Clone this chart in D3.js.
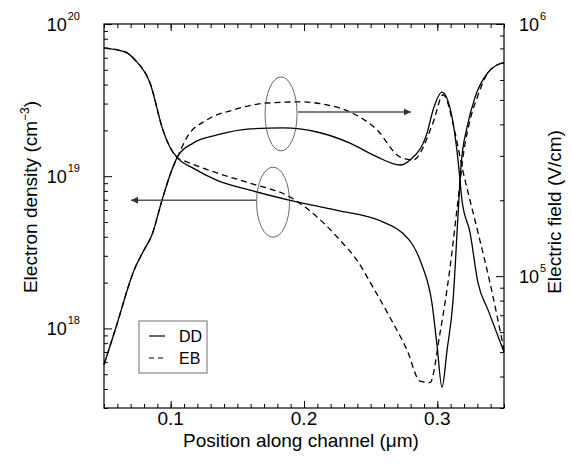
<!DOCTYPE html>
<html>
<head>
<meta charset="utf-8">
<script src="https://cdn.jsdelivr.net/npm/d3@7"></script>
<style>
body { margin: 0; background: white; }
svg text { font-family: "Liberation Sans", Arial, sans-serif; fill: black; }
</style>
</head>
<body>
<div class="board"></div>
<script>
var margin = { top: 24, right: 68, bottom: 60, left: 104 },
    width = 572 - margin.left - margin.right,
    height = 468 - margin.top - margin.bottom;

// electron density (cm^-3) along channel
const posDensityDD = [0.05, 0.0658, 0.0733, 0.0845, 0.0943, 0.0995, 0.1055, 0.1168, 0.1348, 0.1595, 0.1895, 0.2248, 0.257, 0.2743, 0.281, 0.2885, 0.296, 0.2998, 0.3035, 0.3073, 0.3118, 0.3155, 0.3178, 0.3223, 0.3283, 0.338, 0.35]
const densityDD = [6.95e19, 6.55e19, 5.8e19, 4.1e19, 2.0e19, 1.55e19, 1.31e19, 1.13e19, 9.4e18, 8.1e18, 6.95e18, 5.97e18, 5.1e18, 4.2e18, 3.6e18, 2.6e18, 1.46e18, 7.7e17, 4.1e17, 7.2e17, 1.53e18, 5.5e18, 1.18e19, 2.1e19, 3.3e19, 4.8e19, 5.6e19]

const posDensityEB = [0.05, 0.0658, 0.0733, 0.0845, 0.0943, 0.0995, 0.1055, 0.1093, 0.1348, 0.1595, 0.1895, 0.2098, 0.227, 0.2398, 0.2518, 0.2645, 0.2773, 0.287, 0.2945, 0.302, 0.3095, 0.3155, 0.32, 0.3245, 0.3305, 0.338, 0.35]
const densityEB = [6.95e19, 6.55e19, 5.8e19, 4.1e19, 2.0e19, 1.55e19, 1.31e19, 1.27e19, 1.05e19, 9.0e18, 7.3e18, 5.4e18, 3.8e18, 2.8e18, 1.86e18, 1.18e18, 7.2e17, 4.5e17, 4.4e17, 9.3e17, 2.5e18, 6.95e18, 1.48e19, 2.33e19, 3.4e19, 4.8e19, 5.6e19]

// electric field (V/cm) along channel
const posFieldDD = [0.05, 0.0583, 0.0733, 0.0793, 0.086, 0.0935, 0.0995, 0.1055, 0.1168, 0.1348, 0.1595, 0.1843, 0.2098, 0.2345, 0.2548, 0.272, 0.2795, 0.2923, 0.2968, 0.3035, 0.311, 0.3155, 0.3185, 0.3245, 0.3305, 0.338, 0.35]
const fieldDD = [4.45e4, 6.1e4, 1.08e5, 1.25e5, 1.46e5, 2.0e5, 2.52e5, 3.0e5, 3.37e5, 3.63e5, 3.84e5, 3.87e5, 3.73e5, 3.37e5, 2.97e5, 2.76e5, 2.89e5, 3.7e5, 4.56e5, 5.37e5, 4.28e5, 2.89e5, 2.0e5, 1.49e5, 9.4e4, 7.35e4, 5.0e4]

const posFieldEB = [0.05, 0.0583, 0.0733, 0.0793, 0.086, 0.0935, 0.0995, 0.1055, 0.1123, 0.1273, 0.1468, 0.1723, 0.197, 0.2173, 0.2345, 0.2548, 0.272, 0.2818, 0.2968, 0.3043, 0.3133, 0.3185, 0.3245, 0.3305, 0.3395, 0.35]
const fieldEB = [4.45e4, 6.1e4, 1.08e5, 1.25e5, 1.46e5, 2.0e5, 2.52e5, 3.0e5, 3.56e5, 4.17e5, 4.56e5, 4.86e5, 4.91e5, 4.78e5, 4.48e5, 3.8e5, 2.97e5, 2.89e5, 4.06e5, 5.24e5, 3.7e5, 2.71e5, 2.0e5, 1.49e5, 9.4e4, 5.1e4]

const xTicks = [0.1, 0.2, 0.3]
const densityTicks = [1e18, 1e19, 1e20]
const fieldTicks = [1e5, 1e6]
const legendLabels = ["DD", "EB"]

var svg = d3.select(".board")
    .append("svg")
    .attr("width", 572)
    .attr("height", 468)

var g = svg.append("g")
    .attr("transform", `translate(${margin.left}, ${margin.top})`)

let x = d3.scaleLinear().domain([0.05, 0.35]).range([0, width])
let yDensity = d3.scaleLog().domain([3e17, 1e20]).range([height, 0])
let yField = d3.scaleLog().domain([3e4, 1e6]).range([height, 0])

const isPow = d => Math.abs(Math.log10(d) - Math.round(Math.log10(d))) < 1e-9

function drawAxis(axis, transform) {
    let a = g.append("g").attr("transform", transform).call(axis)
    a.select(".domain").remove()
    a.selectAll("text").remove()
    a.selectAll("line").attr("stroke", "black").attr("stroke-width", 1)
}

// x ticks, bottom and top, pointing inward
let xMinor = d3.range(5, 36).map(d => d / 100)
drawAxis(d3.axisBottom(x).tickValues(xMinor).tickSize(-4), `translate(0, ${height})`)
drawAxis(d3.axisBottom(x).tickValues(xTicks).tickSize(-7), `translate(0, ${height})`)
drawAxis(d3.axisTop(x).tickValues(xMinor).tickSize(-4), "translate(0, 0)")
drawAxis(d3.axisTop(x).tickValues(xTicks).tickSize(-7), "translate(0, 0)")

// left (density) and right (field) ticks
drawAxis(d3.axisLeft(yDensity).tickValues(yDensity.ticks().filter(d => !isPow(d))).tickSize(-4), "translate(0, 0)")
drawAxis(d3.axisLeft(yDensity).tickValues(densityTicks).tickSize(-8), "translate(0, 0)")
drawAxis(d3.axisRight(yField).tickValues(yField.ticks().filter(d => !isPow(d))).tickSize(-4), `translate(${width}, 0)`)
drawAxis(d3.axisRight(yField).tickValues(fieldTicks).tickSize(-8), `translate(${width}, 0)`)

g.append("rect")
    .attr("width", width)
    .attr("height", height)
    .attr("fill", "none")
    .attr("stroke", "black")
    .attr("stroke-width", 1.2)

// tick labels
g.selectAll(".xlabel")
    .data(xTicks)
    .enter()
    .append("text")
    .attr("x", d => x(d))
    .attr("y", height + 17)
    .attr("text-anchor", "middle")
    .attr("font-size", 19)
    .text(d => d3.format(".1f")(d))

function powLabel(sel, anchor, xPos, yPos) {
    let t = sel.append("text")
        .attr("x", xPos)
        .attr("y", yPos)
        .attr("text-anchor", anchor)
        .attr("font-size", 18)
    return t
}

densityTicks.forEach(d => {
    let t = powLabel(g, "end", -24, yDensity(d) + 7)
    t.append("tspan").text("10")
    t.append("tspan").attr("dy", -11).attr("dx", 1).attr("font-size", 11).text(Math.round(Math.log10(d)))
})

fieldTicks.forEach(d => {
    let t = powLabel(g, "start", width + 15, yField(d) + 7)
    t.append("tspan").text("10")
    t.append("tspan").attr("dy", -11).attr("dx", 1).attr("font-size", 11).text(Math.round(Math.log10(d)))
})

// axis titles
svg.append("text")
    .attr("x", 301)
    .attr("y", 447)
    .attr("text-anchor", "middle")
    .attr("font-size", 19)
    .text("Position along channel (\u03bcm)")

let leftTitle = svg.append("text")
    .attr("transform", "translate(37, 197) rotate(-90)")
    .attr("text-anchor", "middle")
    .attr("font-size", 19)
leftTitle.append("tspan").text("Electron density (cm")
leftTitle.append("tspan").attr("dy", -8).attr("font-size", 12).text("\u22123")
leftTitle.append("tspan").attr("dy", 8).text(")")

svg.append("text")
    .attr("transform", "translate(561, 212) rotate(-90)")
    .attr("text-anchor", "middle")
    .attr("font-size", 19)
    .text("Electric field (V/cm)")

// curves
function drawCurve(xs, ys, yScale, dashed) {
    let pts = xs.map((d, i) => [d, ys[i]])
    g.append("path")
        .datum(pts)
        .attr("fill", "none")
        .attr("stroke", "black")
        .attr("stroke-width", 1.3)
        .attr("stroke-dasharray", dashed ? "6,4" : null)
        .attr("d", d3.line()
            .x(d => x(d[0]))
            .y(d => yScale(d[1]))
            .curve(d3.curveMonotoneX))
}

drawCurve(posDensityEB, densityEB, yDensity, true)
drawCurve(posFieldEB, fieldEB, yField, true)
drawCurve(posDensityDD, densityDD, yDensity, false)
drawCurve(posFieldDD, fieldDD, yField, false)

// annotations: ellipses + arrows
svg.append("defs").append("marker")
    .attr("id", "head")
    .attr("viewBox", "0 0 10 10")
    .attr("refX", 10)
    .attr("refY", 5)
    .attr("markerWidth", 10)
    .attr("markerHeight", 7)
    .attr("markerUnits", "userSpaceOnUse")
    .attr("orient", "auto")
    .append("path")
    .attr("d", "M0,0 L10,5 L0,10 Z")
    .attr("fill", "#333")

g.append("ellipse")
    .attr("cx", x(0.1828))
    .attr("cy", yField(4.4e5))
    .attr("rx", 16)
    .attr("ry", 37)
    .attr("fill", "none")
    .attr("stroke", "#444")
    .attr("stroke-width", 0.8)

g.append("line")
    .attr("x1", x(0.1955))
    .attr("x2", x(0.2802))
    .attr("y1", yField(4.48e5))
    .attr("y2", yField(4.48e5))
    .attr("stroke", "#555")
    .attr("stroke-width", 1.6)
    .attr("marker-end", "url(#head)")

g.append("ellipse")
    .attr("cx", x(0.1768))
    .attr("cy", yDensity(6.75e18))
    .attr("rx", 16.5)
    .attr("ry", 35)
    .attr("fill", "none")
    .attr("stroke", "#444")
    .attr("stroke-width", 0.8)

g.append("line")
    .attr("x1", x(0.164))
    .attr("x2", x(0.0703))
    .attr("y1", yDensity(6.95e18))
    .attr("y2", yDensity(6.95e18))
    .attr("stroke", "#555")
    .attr("stroke-width", 1.6)
    .attr("marker-end", "url(#head)")

// legend
let legend = svg.append("g").attr("transform", "translate(139, 321)")
legend.append("rect")
    .attr("width", 68)
    .attr("height", 52)
    .attr("fill", "white")
    .attr("stroke", "#888")
    .attr("stroke-width", 1.2)

legend.selectAll(".entry")
    .data(legendLabels)
    .enter()
    .append("g")
    .attr("transform", (d, i) => `translate(0, ${15 + i * 22})`)
    .each(function (d, i) {
        d3.select(this).append("line")
            .attr("x1", 10)
            .attr("x2", 26)
            .attr("stroke", "black")
            .attr("stroke-width", 1.2)
            .attr("stroke-dasharray", i == 1 ? "5,4" : null)
        d3.select(this).append("text")
            .attr("x", 40)
            .attr("y", 6)
            .attr("font-size", 16)
            .text(d)
    })
</script>
</body>
</html>
